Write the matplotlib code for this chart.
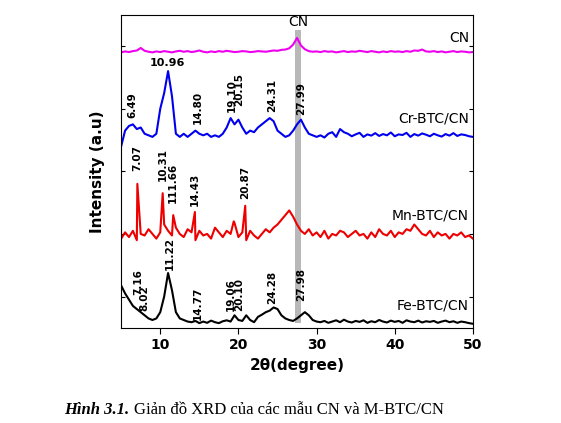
import numpy as np
import matplotlib
matplotlib.use("Agg")
import matplotlib.pyplot as plt

x_grid = [5 + 0.5 * i for i in range(91)]

cn_y = [88.0,88.3,88.1,88.4,88.6,89.4,88.5,88.2,88.0,88.3,
        88.1,88.4,88.2,88.0,88.3,88.5,88.2,88.4,88.1,88.3,
        88.6,88.2,88.0,88.3,88.1,88.4,88.2,88.5,88.3,88.1,
        88.2,88.4,88.3,88.1,88.2,88.4,88.3,88.2,88.4,88.6,
        88.5,88.8,88.9,89.3,90.5,92.6,90.2,89.0,88.4,88.2,
        88.3,88.1,88.4,88.2,88.3,88.0,88.2,88.4,88.1,88.3,
        88.2,88.5,88.3,88.1,88.4,88.2,88.0,88.3,88.1,88.4,
        88.2,88.3,88.1,88.4,88.2,88.6,88.5,88.9,88.3,88.2,
        88.4,88.1,88.3,88.0,88.2,88.4,88.1,88.3,88.2,88.0,
        88.1]

cr_y = [58.0,63.0,64.5,65.0,63.5,64.0,62.0,61.5,61.0,62.0,70.0,75.0,82.0,74.0,62.0,61.0,62.0,61.0,62.0,63.0,
        62.0,61.5,62.0,61.0,61.5,61.0,62.0,64.0,67.0,65.0,66.5,64.0,62.0,63.0,62.5,64.0,65.0,66.0,67.0,66.0,
        63.0,62.0,61.0,61.5,63.0,65.0,66.5,64.0,62.0,61.5,61.0,61.5,60.8,62.0,62.5,61.0,63.5,62.5,62.0,61.2,
        61.8,62.3,61.0,61.8,61.4,62.2,61.3,61.9,61.5,62.4,61.2,61.8,61.6,62.3,61.0,61.9,61.4,62.1,61.7,61.2,
        62.0,61.5,61.1,61.9,61.4,62.2,61.3,61.8,61.6,61.2,61.0]

mn_y = [28.5,30.5,29.0,31.0,28.0,30.0,29.5,31.5,30.0,28.5,30.5,33.0,31.0,29.5,32.0,30.0,29.0,31.5,30.5,28.0,
        31.0,29.5,30.0,28.5,32.0,30.5,29.0,31.0,30.0,33.5,29.0,30.5,28.0,31.0,29.5,28.5,30.0,31.5,30.5,32.0,
        33.0,34.5,36.0,37.5,35.5,33.0,31.0,30.0,31.5,29.5,30.5,29.0,31.0,28.5,30.0,29.5,31.0,30.5,29.0,30.0,
        31.0,29.5,30.0,28.5,30.5,29.0,31.5,30.0,29.5,31.0,29.0,30.5,30.0,31.5,31.0,33.0,31.5,30.0,29.5,31.0,
        29.0,30.5,29.5,30.0,28.5,30.0,29.5,30.5,29.0,29.5,28.5]
mn_px = [7.07, 10.31, 11.66, 14.43, 19.4, 20.87]
mn_py = [46.0, 43.0, 36.0, 37.0, 34.0, 39.0]

fe_y = [13.5,11.0,9.0,7.0,6.0,5.0,4.0,3.0,2.5,3.0,5.0,10.0,17.5,12.0,5.0,3.0,2.5,2.0,1.8,2.2,
        1.5,2.0,1.6,2.3,1.8,1.5,2.1,2.4,2.0,4.0,2.5,2.2,4.0,2.5,1.8,3.5,4.2,5.0,5.5,6.5,
        6.0,4.0,3.0,2.5,2.2,3.0,4.0,5.0,4.0,2.5,2.0,1.8,2.2,1.6,2.0,2.4,1.8,2.6,2.0,1.7,
        2.2,1.9,2.4,1.6,2.1,1.8,2.5,2.0,1.7,2.3,1.9,2.2,1.6,2.4,2.0,1.8,2.3,1.7,2.1,1.9,
        2.2,1.6,2.0,2.3,1.8,2.1,1.6,2.0,1.8,1.5,1.3]

series_names = ["CN", "Cr-BTC/CN", "Mn-BTC/CN", "Fe-BTC/CN"]
series_colors = ["#ee00ee", "#0000ee", "#ee0000", "#000000"]

cr_labels = ["6.49", "14.80", "19.10", "20.15", "24.31", "27.99"]
cr_lx = [6.49, 14.80, 19.10, 20.15, 24.31, 27.99]
cr_ly = [67, 65, 69, 71, 69, 68]
mn_labels = ["7.07", "10.31", "111.66", "14.43", "20.87"]
mn_lx = [7.07, 10.31, 11.66, 14.43, 20.87]
mn_ly = [50, 47, 40, 39, 41]
fe_labels = ["7.16", "8.02", "11.22", "14.77", "19.06", "20.10", "24.28", "27.98"]
fe_lx = [7.16, 8.02, 11.22, 14.77, 19.06, 20.10, 24.28, 27.98]
fe_ly = [10.5, 5.5, 18.5, 2.5, 5.5, 5.5, 7.5, 8.5]

fig = plt.figure(figsize=(5.61, 4.23), dpi=100)
ax = fig.add_axes([0.216, 0.225, 0.627, 0.740])

ax.axvspan(27.25, 28.0, ymin=0.015, ymax=0.95, color="#b8b8b8", lw=0, zorder=0)

def merged(xs, ys, px=None, py=None):
    pts = list(zip(xs, ys))
    if px:
        pts += list(zip(px, py))
    pts.sort()
    return [p[0] for p in pts], [p[1] for p in pts]

data = [merged(x_grid, cn_y), merged(x_grid, cr_y), merged(x_grid, mn_y, mn_px, mn_py), merged(x_grid, fe_y)]
for (xs, ys), c in zip(data, series_colors):
    ax.plot(xs, ys, color=c, lw=1.5)

lab_y = [90.5, 64.5, 33.5, 5.0]
for name, c, yy in zip(series_names, series_colors, lab_y):
    ax.text(49.5, yy, name, ha="right", va="bottom", fontsize=10)

ax.text(27.6, 95.5, "CN", ha="center", va="bottom", fontsize=10)
ax.text(10.96, 83, "10.96", ha="center", va="bottom", fontsize=8, fontweight="bold")
for labs, lx, ly in [(cr_labels, cr_lx, cr_ly), (mn_labels, mn_lx, mn_ly), (fe_labels, fe_lx, fe_ly)]:
    for t, x, y in zip(labs, lx, ly):
        ax.text(x, y, t, rotation=90, ha="center", va="bottom", fontsize=7.5, fontweight="bold")

ax.set_xlim(5, 50)
ax.set_ylim(0, 100)
ax.set_xticks([10, 20, 30, 40, 50])
ax.set_yticks([10, 30, 50, 70, 90])
ax.set_yticklabels([])
ax.tick_params(axis="y", direction="in", right=True, length=3)
ax.tick_params(axis="x", direction="out", length=4, labelsize=10)
for lbl in ax.get_xticklabels():
    lbl.set_fontweight("bold")
ax.set_xlabel("2θ(degree)", fontsize=11, fontweight="bold", labelpad=4)
ax.set_ylabel("Intensity (a.u)", fontsize=11, fontweight="bold", labelpad=8)

t1 = fig.text(0.115, 0.022, "Hình 3.1.", fontsize=12, fontstyle="italic", fontweight="bold",
              family="Liberation Serif")
fig.canvas.draw()
bb = t1.get_window_extent()
fig.text(bb.x1 / fig.bbox.width + 0.008, 0.022, "Giản đồ XRD của các mẫu CN và M-BTC/CN", fontsize=12,
         family="Liberation Serif")

fig.savefig("out.png", dpi=100)
